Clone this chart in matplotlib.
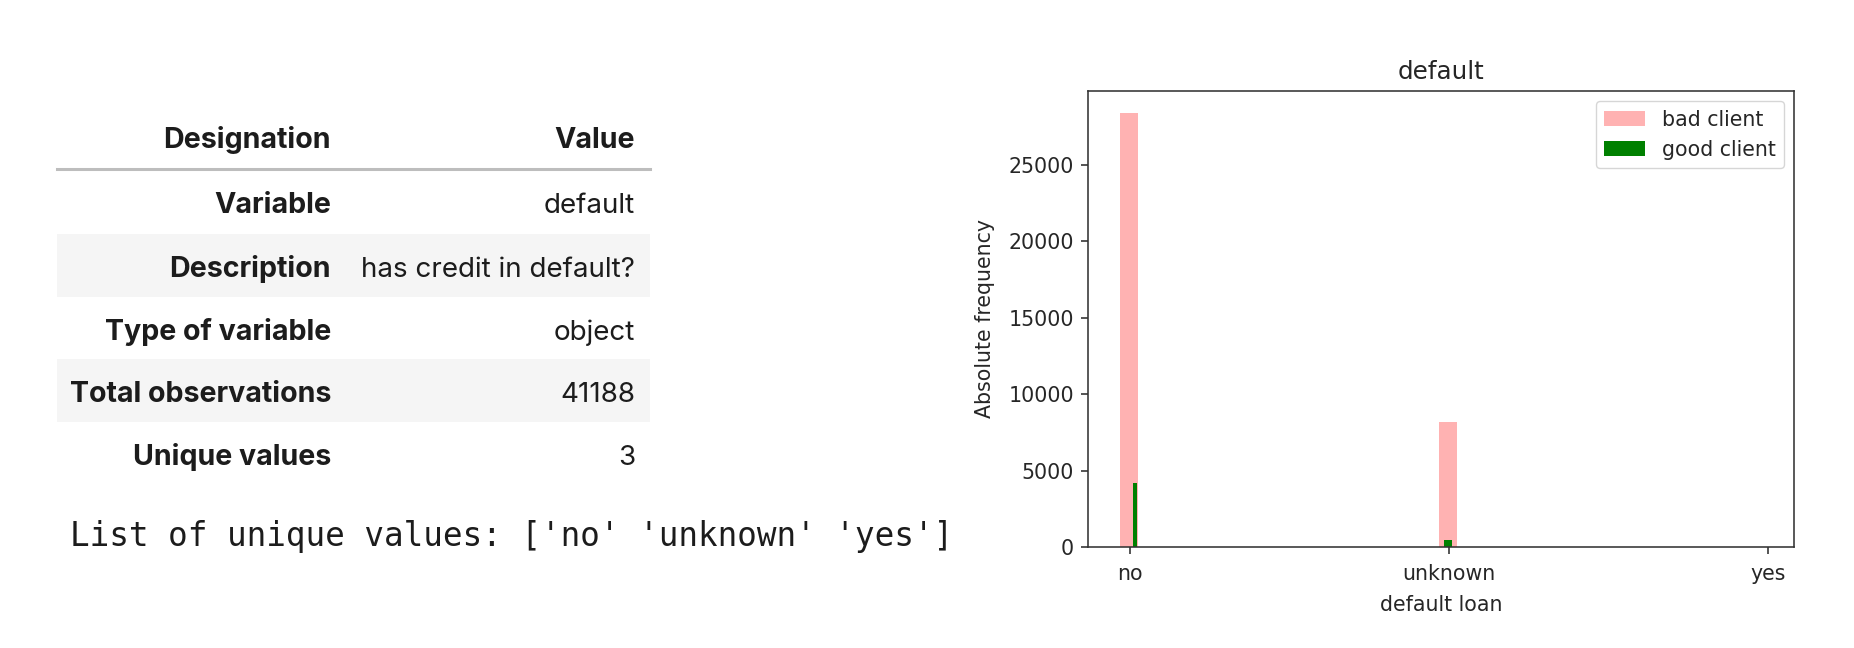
import numpy as np
import matplotlib
matplotlib.use("Agg")
import matplotlib.pyplot as plt
from matplotlib.patches import Rectangle
from matplotlib.lines import Line2D

# ---------------- data ----------------
categories = ['no', 'unknown', 'yes']
bad_client = [28391, 8154, 3]
good_client = [4197, 443, 0]

table_header = ['Designation', 'Value']
table_labels = ['Variable', 'Description', 'Type of variable', 'Total observations', 'Unique values']
table_values = ['default', 'has credit in default?', 'object', '41188', '3']
unique_line = "List of unique values: ['no' 'unknown' 'yes']"

chart_title = 'default'
x_label = 'default loan'
y_label = 'Absolute frequency'

# ---------------- figure ----------------
W, H = 1854, 648
fig = plt.figure(figsize=(W / 100, H / 100), dpi=100)
fig.patch.set_facecolor('white')

def fx(px):
    return px / W

def fy(py):
    return 1 - py / H

# ---------------- table ----------------
tbl_left, tbl_right = 57, 650
lab_right, val_right = 331, 635
header_base = 148
row_base = [213, 277, 340, 402, 465]
row_top = [171, 234, 297, 359, 422]
row_h = 63
txt_col = '#1c1c1c'
tfont = 'Inter'
tsize_bold = 20.6
tsize = 20

for i in range(len(table_labels)):
    if i % 2 == 1:
        fig.patches.append(Rectangle((fx(tbl_left), fy(row_top[i] + row_h)),
                                     fx(tbl_right) - fx(tbl_left), row_h / H,
                                     transform=fig.transFigure, facecolor='#f5f5f5',
                                     edgecolor='none', zorder=0))

fig.lines.append(Line2D([fx(tbl_left), fx(tbl_right)], [fy(169), fy(169)],
                        transform=fig.transFigure, color='#bdbdbd', lw=2.2))

fig.text(fx(lab_right), fy(header_base), table_header[0], ha='right', va='baseline',
         fontsize=tsize_bold, fontweight='bold', family=tfont, color=txt_col)
fig.text(fx(val_right), fy(header_base), table_header[1], ha='right', va='baseline',
         fontsize=tsize_bold, fontweight='bold', family=tfont, color=txt_col)

for lab, val, b in zip(table_labels, table_values, row_base):
    fig.text(fx(lab_right), fy(b), lab, ha='right', va='baseline',
             fontsize=tsize_bold, fontweight='bold', family=tfont, color=txt_col)
    fig.text(fx(val_right), fy(b), val, ha='right', va='baseline',
             fontsize=tsize, family=tfont, color=txt_col)

fig.text(fx(70), fy(546), unique_line, ha='left', va='baseline',
         fontsize=23.5, family='DejaVu Sans Mono', color=txt_col)

# ---------------- chart ----------------
cfs = 14.8
dark = '#262626'
ax = fig.add_axes([fx(1088), fy(547), fx(1794) - fx(1088), (547 - 91) / H])

pos = np.arange(len(categories))
pink_offset, pink_width = -0.031, 0.056
green_offsets = [0.009, -0.016, 0.0]
green_widths = [0.014, 0.025, 0.02]

ax.bar(pos + pink_offset, bad_client, width=pink_width, align='edge',
       color='r', alpha=0.3, label='bad client')
ax.bar(pos + np.array(green_offsets), good_client, width=green_widths, align='edge',
       color='green', label='good client')

ax.set_xticks(pos)
ax.set_xticklabels(categories)
ax.set_xlim(-0.131, 2.081)
ax.set_title(chart_title, fontsize=cfs * 1.2, color=dark, pad=8.5)
ax.set_xlabel(x_label, fontsize=cfs, color=dark, labelpad=8)
ax.set_ylabel(y_label, fontsize=cfs, color=dark, labelpad=10)
ax.tick_params(labelsize=cfs, length=5, width=1.1, pad=5, colors=dark)
ax.tick_params(axis='x', pad=7)
for s in ax.spines.values():
    s.set_linewidth(1.15)
    s.set_color('#333333')

leg = ax.legend(loc='upper right', fontsize=cfs, framealpha=0.8, edgecolor='#cccccc',
                fancybox=True)
for t in leg.get_texts():
    t.set_color(dark)

fig.savefig('out.png', dpi=100)
